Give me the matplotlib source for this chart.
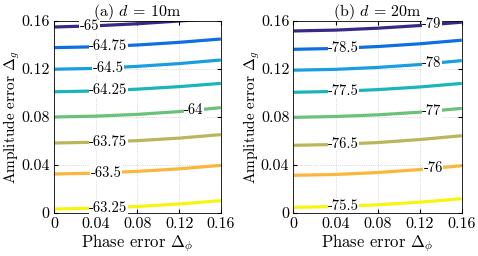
import matplotlib.pyplot as plt

plt.rcParams['font.family'] = 'serif'
plt.rcParams['font.serif'] = ['cmr10']
plt.rcParams['mathtext.fontset'] = 'cm'
plt.rcParams['axes.formatter.use_mathtext'] = True

# phase error grid where contour heights were read
phase = [0, 0.04, 0.08, 0.12, 0.16]

# (a) d = 10m : contour level -> amplitude error along phase
levels_a = [-65, -64.75, -64.5, -64.25, -64, -63.75, -63.5, -63.25]
lines_a = [
    [0.1550, 0.1560, 0.1577, 0.1600, 0.1625],
    [0.1378, 0.1385, 0.1400, 0.1422, 0.1450],
    [0.1198, 0.1205, 0.1222, 0.1245, 0.1275],
    [0.1010, 0.1017, 0.1032, 0.1053, 0.1080],
    [0.0800, 0.0807, 0.0822, 0.0845, 0.0878],
    [0.0583, 0.0590, 0.0603, 0.0624, 0.0653],
    [0.0325, 0.0332, 0.0347, 0.0368, 0.0397],
    [0.0033, 0.0040, 0.0054, 0.0075, 0.0103],
]
label_x_a = [0.034, 0.052, 0.052, 0.052, 0.134, 0.052, 0.05, 0.052]

# (b) d = 20m
levels_b = [-79, -78.5, -78, -77.5, -77, -76.5, -76, -75.5]
lines_b = [
    [0.1517, 0.1524, 0.1540, 0.1562, 0.1590],
    [0.1364, 0.1371, 0.1387, 0.1410, 0.1440],
    [0.1190, 0.1197, 0.1213, 0.1237, 0.1270],
    [0.1006, 0.1013, 0.1028, 0.1050, 0.1080],
    [0.0797, 0.0804, 0.0818, 0.0840, 0.0872],
    [0.0564, 0.0571, 0.0587, 0.0612, 0.0644],
    [0.0314, 0.0321, 0.0337, 0.0362, 0.0394],
    [0.0047, 0.0054, 0.0068, 0.0090, 0.0119],
]
label_x_b = [0.1315, 0.0475, 0.1315, 0.0475, 0.1315, 0.0475, 0.133, 0.0475]

colors = ['#352a87', '#0d6fe0', '#1a9ee0', '#1ab5b8', '#6cc17a',
          '#b9b75a', '#fbb73b', '#f7f510']
ticks = [0, 0.04, 0.08, 0.12, 0.16]
ticklabels = ['0', '0.04', '0.08', '0.12', '0.16']

fig = plt.figure(figsize=(4.78, 2.56), dpi=100)
ax1 = fig.add_axes([0.113, 0.168, 0.349, 0.750])
ax2 = fig.add_axes([0.614, 0.168, 0.352, 0.750])

panels = [(ax1, levels_a, lines_a, label_x_a, r'(a) $d$ = 10m'),
          (ax2, levels_b, lines_b, label_x_b, r'(b) $d$ = 20m')]

for ax, levels, lines, lab_x, title in panels:
    for lev, ys, lx, c in zip(levels, lines, lab_x, colors):
        ax.plot(phase, ys, color=c, lw=2.3, solid_capstyle='butt', zorder=2)
        # put the label on the line
        i = min(int(lx / 0.04), 3)
        t = (lx - phase[i]) / 0.04
        ly = ys[i] + t * (ys[i + 1] - ys[i])
        ax.text(lx, ly, '%g' % lev, ha='center', va='center', fontsize=10.5, zorder=3,
                bbox=dict(facecolor='white', edgecolor='none', pad=0.3))
    ax.set_xlim(0, 0.16)
    ax.set_ylim(0, 0.16)
    ax.set_xticks(ticks)
    ax.set_xticklabels(ticklabels)
    ax.set_yticks(ticks)
    ax.set_yticklabels(ticklabels)
    ax.tick_params(direction='in', length=3, top=True, right=True, labelsize=11.5, pad=3)
    ax.grid(True, ls=':', color='#c8c8c8', lw=0.6)
    ax.set_axisbelow(True)
    for s in ax.spines.values():
        s.set_linewidth(0.6)
    ax.set_xlabel(r'Phase error $\Delta_\phi$', fontsize=12, labelpad=1)
    ax.set_ylabel(r'Amplitude error $\Delta_g$', fontsize=11)
    ax.yaxis.set_label_coords(-0.19, 0.5)
    ax.set_title(title, fontsize=11.5, pad=3.5)

fig.savefig('out.png', dpi=100)
